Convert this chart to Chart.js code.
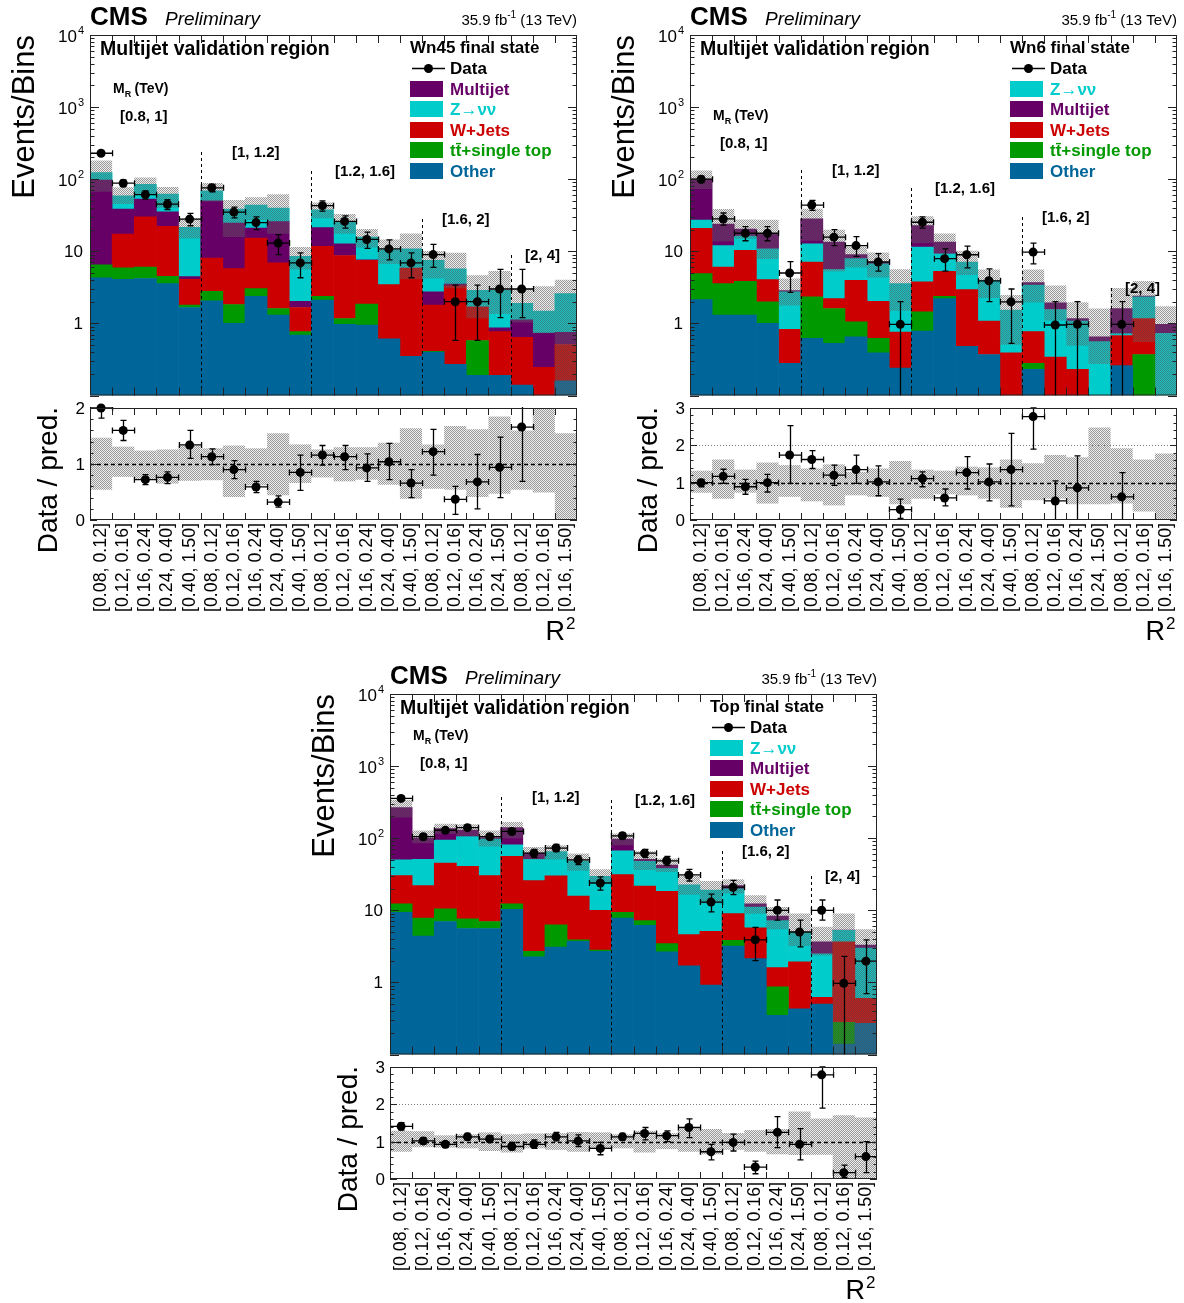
<!DOCTYPE html>
<html>
<head>
<meta charset="utf-8">
<script src="https://cdn.jsdelivr.net/npm/chart.js"></script>
<style>
  body { margin: 0; background: #fff; overflow: hidden; }
  #page { position: relative; width: 1184px; height: 1303px; overflow: hidden; }
  canvas { position: absolute; }
</style>
</head>
<body>
<div id="page"></div>
<script>
// R^2 bins, grouped by M_R range
const binLabels = [
  '[0.08, 0.12]', '[0.12, 0.16]', '[0.16, 0.24]', '[0.24, 0.40]', '[0.40, 1.50]',
  '[0.08, 0.12]', '[0.12, 0.16]', '[0.16, 0.24]', '[0.24, 0.40]', '[0.40, 1.50]',
  '[0.08, 0.12]', '[0.12, 0.16]', '[0.16, 0.24]', '[0.24, 0.40]', '[0.40, 1.50]',
  '[0.08, 0.12]', '[0.12, 0.16]', '[0.16, 0.24]', '[0.24, 1.50]',
  '[0.08, 0.12]', '[0.12, 0.16]', '[0.16, 1.50]'
];
const mrLabels = ['[0.8, 1]', '[1, 1.2]', '[1.2, 1.6]', '[1.6, 2]', '[2, 4]'];
const mrFirstBin = [0, 5, 10, 15, 19];

// ---- Wn45 final state ----
const wn45Other = [4.3, 4.1, 4.2, 3.56, 1.66, 2.06, 1.0, 2.38, 1.3, 0.69, 2.1, 0.97, 0.95, 0.61, 0.35, 0.4, 0.27, 0.19, 0.19, 0.14, null, 0.16];
const wn45TT = [2.2, 1.8, 1.85, 0.94, 0.13, 0.73, 0.83, 0.66, 0.31, 0.08, 0.28, 0.2, 0.9, null, null, 0.01, null, 0.39, null, null, null, null];
const wn45WJets = [null, 11.4, 23.9, 17.7, 2.29, 5.26, 3.91, 12.2, 5.29, 0.89, 9.32, 7.58, 5.65, 2.84, 5.52, 1.38, 3.04, 1.12, 0.58, 0.5, 0.245, 0.35];
const wn45Multijet = [90.5, 21.3, 23.1, 13.2, 0.37, 42, 18.8, 5.7, 18.9, 0.37, 9.6, 3.95, 0.1, null, null, 0.95, 0.19, null, 0.1, 0.48, 0.49, 0.24];
const wn45Znn = [27, 20.3, 32, 26.6, 17.1, 19, 14.1, 22.9, 14, 6.47, 16.4, 12.6, 8.1, 7.15, 4.93, 4.76, 2.2, 1.18, 2.01, 0.78, 0.75, 1.85];
const wn45Data = [229, 88, 61, 45, 28, 76, 35, 25, 13, 6.9, 43, 26, 14.6, 10.8, 6.9, 9, 2, 2, 3, 3, null, null];
const wn45DataLo = [214, 79, 53, 38, 22.6, 67, 29, 20, 9, 4.3, 36, 21, 11, 7.6, 4.3, 6, 0.58, 0.58, 1.2, 1.2, null, null];
const wn45DataHi = [244, 98, 69, 52, 33.5, 85, 41, 30, 17, 9.5, 50, 31, 18.5, 14.4, 9.5, 12.5, 3.4, 3.4, 5.6, 5.6, null, null];
const wn45Ratio = [2.0, 1.60, 0.72, 0.76, 1.34, 1.13, 0.90, 0.59, 0.32, 0.85, 1.16, 1.13, 0.93, 1.04, 0.66, 1.22, 0.37, 0.68, 0.94, 1.66, null, null];
const wn45RatioLo = [1.82, 1.42, 0.63, 0.65, 1.10, 0.99, 0.74, 0.49, 0.23, 0.53, 0.98, 0.90, 0.69, 0.72, 0.40, 0.80, 0.10, 0.20, 0.40, 0.69, null, null];
const wn45RatioHi = [2.2, 1.78, 0.81, 0.86, 1.60, 1.27, 1.06, 0.69, 0.43, 1.16, 1.33, 1.33, 1.18, 1.37, 0.90, 1.62, 0.60, 1.17, 1.48, 2.2, null, null];
const wn45BandLo = [0.54, 0.77, 0.72, 0.65, 0.70, 0.71, 0.41, 0.62, 0.44, 0.66, 0.76, 0.69, 0.72, 0.63, 0.38, 0.56, 0.54, 0.41, 0.47, 0.54, 0.49, 0];
const wn45BandHi = [1.47, 1.31, 1.24, 1.26, 1.33, 1.28, 1.33, 1.28, 1.55, 1.35, 1.26, 1.30, 1.30, 1.38, 1.64, 1.35, 1.68, 1.62, 1.85, 1.60, 2.2, 1.55];

// ---- Wn6 final state ----
const wn6Other = [2.14, 1.3, 1.3, 1.0, 0.28, 0.62, 0.53, 0.65, 0.39, 0.24, 0.78, 2.21, 0.48, 0.37, null, 0.23, null, null, null, 0.26, null, null];
const wn6TT = [2.76, 2.26, 2.53, 0.99, null, 1.71, 1.08, 0.4, 0.23, null, 0.67, 0.17, null, null, null, 0.05, null, null, null, null, 0.37, null];
const wn6WJets = [16.0, 2.49, 6.47, 2.05, 0.55, 4.77, 0.6, 2.91, 1.41, 0.52, 2.31, 2.89, 2.46, 0.71, 0.39, 0.49, 0.34, 0.23, null, 0.42, 0.8, null];
const wn6Znn = [6.3, 5.95, 5.9, 6.76, 1.91, 5.6, 3.39, 3.94, 4.67, 2.8, 7.64, 3.93, 4.16, 2.88, 1.14, 2.63, 1.22, 0.85, 0.56, 0.04, 1.16, 0.73];
const wn6Multijet = [72.8, 11.9, 4.2, 7.0, 0.11, 15.4, 7.8, 1.1, 0.3, null, 11.3, 4.2, null, null, null, 0.28, 0.37, 0.09, 0.09, 0.89, 0.07, 0.24];
const wn6Data = [100, 28.1, 17.8, 17.8, 5.0, 43.8, 15.7, 12.0, 7.1, 0.97, 25.3, 7.9, 8.95, 3.9, 1.99, 9.75, 0.95, 0.97, null, 0.97, null, null];
const wn6DataLo = [90, 23, 14, 14, 2.7, 37, 12, 8.5, 5.3, 0.05, 21, 5.3, 5.9, 2.0, 0.53, 6.7, 0.05, 0.05, null, 0.05, null, null];
const wn6DataHi = [110, 34, 22, 22, 7.2, 51, 20, 16, 9.3, 2.0, 30, 10.8, 11.8, 5.7, 3.0, 13, 2.0, 2.0, null, 2.0, null, null];
const wn6Ratio = [1.0, 1.17, 0.89, 1.0, 1.74, 1.62, 1.20, 1.35, 1.02, 0.28, 1.11, 0.59, 1.27, 1.02, 1.35, 2.77, 0.51, 0.86, null, 0.62, null, null];
const wn6RatioLo = [0.89, 0.98, 0.69, 0.75, 0.98, 1.38, 0.93, 0.98, 0.65, 0.04, 0.89, 0.38, 0.83, 0.51, 0.38, 1.90, 0, 0, null, 0, null, null];
const wn6RatioHi = [1.09, 1.36, 1.09, 1.22, 2.53, 1.86, 1.47, 1.74, 1.45, 0.56, 1.29, 0.83, 1.70, 1.50, 2.32, 3.0, 1.05, 1.72, null, 1.27, null, null];
const wn6BandLo = [0.73, 0.57, 0.73, 0.44, 0.62, 0.50, 0.39, 0.66, 0.62, 0.42, 0.57, 0.69, 0.66, 0.57, 0.33, 0.53, 0.57, 0.42, 0.42, 0.44, 0.23, 0];
const wn6BandHi = [1.32, 1.62, 1.35, 1.54, 1.47, 1.38, 1.49, 1.29, 1.38, 1.58, 1.35, 1.32, 1.43, 1.41, 1.62, 1.52, 1.74, 1.68, 2.48, 1.92, 1.62, 1.78];

// ---- Top final state ----
const topOther = [9.4, 4.4, 7.0, 5.6, 5.6, 10.3, 2.26, 3.1, 3.7, 2.7, 7.8, 6.2, 2.65, 1.7, 0.92, 3.2, 2.14, 0.35, 0.43, 0.5, 0.14, 0.27];
const topTT = [2.9, 3.4, 3.5, 2.0, 1.4, 2.0, 0.44, 3.2, 0.2, 0.1, 1.6, 1.0, 0.8, null, null, 0.64, null, 0.52, null, null, 0.14, null];
const topWJets = [17.9, 14.2, 34.5, 33.1, 23.2, 43.7, 23.1, 23.7, 11.8, 7.2, 21.8, 14.4, 14.95, 2.9, 4.18, 5.16, 3.56, 0.73, 1.5, 0.12, 3.36, 0.33];
const topZnn = [19.8, 29, 49, 64.3, 66.8, 25, 25.2, 35, 32.9, 19.6, 35.8, 26, 19.6, 17.9, 13.9, 10.8, 5.4, 5.6, 3.07, 1.88, 1.63, 2.4];
const topMultijet = [215, 49, 42, 25, 5, 59, 11, null, null, null, 30, 3.4, 4.5, null, null, 2.2, 1.2, 1.1, null, 1.14, 0.03, 0.3];
const topData = [356, 105, 129, 140, 105, 124, 62, 73, 50, 23.9, 108, 62, 48.6, 30.9, 13, 20.9, 3.9, 10, 5.0, 10, 0.97, 1.97];
const topDataLo = [337, 95, 118, 128, 95, 113, 54, 65, 43, 19, 98, 54, 42, 25.5, 9.5, 16.5, 2.0, 7.3, 3.1, 7.3, 0.05, 0.7];
const topDataHi = [375, 115, 140, 152, 115, 135, 70, 82, 57, 29, 118, 70, 56, 37, 16.8, 26, 5.8, 13.9, 7.3, 13.9, 2.3, 3.9];
const topRatio = [1.41, 1.02, 0.93, 1.13, 1.07, 0.87, 0.93, 1.13, 1.02, 0.82, 1.13, 1.22, 1.16, 1.38, 0.73, 0.98, 0.32, 1.25, 0.93, 2.79, 0.17, 0.60];
const topRatioLo = [1.31, 0.93, 0.84, 1.04, 0.98, 0.78, 0.82, 1.02, 0.87, 0.65, 1.04, 1.05, 1.0, 1.11, 0.51, 0.75, 0.14, 0.84, 0.51, 1.9, 0.04, 0.17];
const topRatioHi = [1.51, 1.11, 1.0, 1.22, 1.16, 0.98, 1.05, 1.25, 1.18, 0.98, 1.22, 1.38, 1.29, 1.61, 0.93, 1.2, 0.48, 1.67, 1.35, 3.0, 0.37, 1.0];
const topBandLo = [0.73, 0.85, 0.84, 0.82, 0.75, 0.71, 0.82, 0.78, 0.73, 0.82, 0.82, 0.71, 0.8, 0.73, 0.66, 0.78, 0.73, 0.66, 0.64, 0.65, 0, 0];
const topBandHi = [1.29, 1.28, 1.17, 1.2, 1.25, 1.2, 1.22, 1.23, 1.26, 1.25, 1.2, 1.29, 1.23, 1.35, 1.34, 1.23, 1.31, 1.34, 1.81, 1.62, 1.71, 1.65];

const PROC = {
  Other: { label: 'Other', color: '#006699' },
  TT: { label: 't\u0074\u0304+single top', color: '#009900' },
  WJets: { label: 'W+Jets', color: '#cc0000' },
  Multijet: { label: 'Multijet', color: '#660066' },
  Znn: { label: 'Z\u2192\u03bd\u03bd', color: '#00cccc' }
};

const FAM = '"Liberation Sans", Arial, Helvetica, sans-serif';
const font = (size, w) => (w || '') + ' ' + size + 'px ' + FAM;

// semi transparent grey dither, like ROOT's hatched error band
function makeHatch() {
  const c = document.createElement('canvas');
  c.width = 2; c.height = 2;
  const g = c.getContext('2d');
  g.fillStyle = 'rgba(90,90,90,0.62)';
  g.fillRect(0, 0, 1, 1); g.fillRect(1, 1, 1, 1);
  g.fillStyle = 'rgba(140,140,140,0.16)';
  g.fillRect(1, 0, 1, 1); g.fillRect(0, 1, 1, 1);
  return g.createPattern(c, 'repeat');
}
const hatch = makeHatch();

const panels = [
  {
    ox: 0, oy: 0, title: 'Wn45 final state',
    stack: ['Other', 'TT', 'WJets', 'Multijet', 'Znn'],
    legend: ['Multijet', 'Znn', 'WJets', 'TT', 'Other'],
    comp: { Other: wn45Other, TT: wn45TT, WJets: wn45WJets, Multijet: wn45Multijet, Znn: wn45Znn },
    data: wn45Data, dataLo: wn45DataLo, dataHi: wn45DataHi,
    ratio: wn45Ratio, ratioLo: wn45RatioLo, ratioHi: wn45RatioHi,
    bandLo: wn45BandLo, bandHi: wn45BandHi, ratioMax: 2,
    mrY: [116, 152, 171, 219, 255]
  },
  {
    ox: 600, oy: 0, title: 'Wn6 final state',
    stack: ['Other', 'TT', 'WJets', 'Znn', 'Multijet'],
    legend: ['Znn', 'Multijet', 'WJets', 'TT', 'Other'],
    comp: { Other: wn6Other, TT: wn6TT, WJets: wn6WJets, Multijet: wn6Multijet, Znn: wn6Znn },
    data: wn6Data, dataLo: wn6DataLo, dataHi: wn6DataHi,
    ratio: wn6Ratio, ratioLo: wn6RatioLo, ratioHi: wn6RatioHi,
    bandLo: wn6BandLo, bandHi: wn6BandHi, ratioMax: 3,
    mrY: [143, 170, 188, 217, 288]
  },
  {
    ox: 300, oy: 659, title: 'Top final state',
    stack: ['Other', 'TT', 'WJets', 'Znn', 'Multijet'],
    legend: ['Znn', 'Multijet', 'WJets', 'TT', 'Other'],
    comp: { Other: topOther, TT: topTT, WJets: topWJets, Multijet: topMultijet, Znn: topZnn },
    data: topData, dataLo: topDataLo, dataHi: topDataHi,
    ratio: topRatio, ratioLo: topRatioLo, ratioHi: topRatioHi,
    bandLo: topBandLo, bandHi: topBandHi, ratioMax: 3,
    mrY: [104, 138, 141, 192, 217]
  }
];
const mrX = [120, 232, 335, 442, 525];

function binWidth(x) { return x.getPixelForValue(1) - x.getPixelForValue(0); }
function edgeAt(x, i) { return x.getPixelForValue(0) - binWidth(x) / 2 + i * binWidth(x); }

function line(ctx, x1, y1, x2, y2) { ctx.moveTo(x1, y1); ctx.lineTo(x2, y2); }

function makeErrBars(val, lo, hi) {
  return {
    id: 'errBars',
    afterDatasetsDraw(chart) {
      const { ctx, chartArea: a, scales: { x, y } } = chart;
      const w = binWidth(x);
      ctx.save();
      ctx.beginPath(); ctx.rect(a.left, a.top - 1, a.width, a.height + 1); ctx.clip();
      ctx.strokeStyle = '#000'; ctx.lineWidth = 1.3;
      ctx.beginPath();
      val.forEach((v, i) => {
        if (v == null) return;
        const px = Math.round(x.getPixelForValue(i)) + 0.5;
        const py = y.getPixelForValue(v);
        const yl = y.getPixelForValue(lo[i]);
        const yh = y.getPixelForValue(hi[i]);
        line(ctx, px, yl, px, yh);
        line(ctx, px - 3, yl, px + 3, yl);
        line(ctx, px - 3, yh, px + 3, yh);
        line(ctx, px - w / 2, py, px + w / 2, py);
        line(ctx, px - w / 2, py - 3, px - w / 2, py + 3);
        line(ctx, px + w / 2, py - 3, px + w / 2, py + 3);
      });
      ctx.stroke();
      ctx.restore();
    }
  };
}

function frameAndEdgeTicks(ctx, a, x, n, len) {
  ctx.strokeStyle = '#222'; ctx.lineWidth = 1;
  ctx.strokeRect(a.left + 0.5, a.top + 0.5, a.width - 1, a.height - 1);
  ctx.beginPath();
  for (let i = 1; i < n; i++) {
    const ex = Math.round(edgeAt(x, i)) + 0.5;
    line(ctx, ex, a.top, ex, a.top + len);
    line(ctx, ex, a.bottom, ex, a.bottom - len);
  }
  ctx.stroke();
}

function makeMainDecor(p) {
  return {
    id: 'mainDecor',
    afterDraw(chart) {
      const { ctx, chartArea: a, scales: { x, y } } = chart;
      ctx.save();
      // dashed separators between M_R groups
      ctx.strokeStyle = '#000'; ctx.lineWidth = 1; ctx.setLineDash([3, 3]);
      ctx.beginPath();
      mrFirstBin.forEach((b, k) => {
        if (!k) return;
        const ex = Math.round(edgeAt(x, b)) + 0.5;
        line(ctx, ex, p.mrY[k], ex, a.bottom);
      });
      ctx.stroke();
      ctx.setLineDash([]);

      frameAndEdgeTicks(ctx, a, x, binLabels.length, 8);
      // log ticks left and right
      ctx.beginPath();
      for (let d = -1; d <= 4; d++) {
        for (let k = 1; k <= 9; k++) {
          const v = k * Math.pow(10, d);
          if (v < 0.1 || v > 10001) continue;
          const py = Math.round(y.getPixelForValue(v)) + 0.5;
          const len = k === 1 ? 9 : 4.5;
          line(ctx, a.left, py, a.left + len, py);
          line(ctx, a.right, py, a.right - len, py);
        }
      }
      ctx.stroke();

      // y tick labels
      ctx.fillStyle = '#000'; ctx.textBaseline = 'alphabetic';
      for (let d = 0; d <= 4; d++) {
        const py = y.getPixelForValue(Math.pow(10, d));
        if (d < 2) {
          ctx.font = font(17); ctx.textAlign = 'right';
          ctx.fillText(d === 0 ? '1' : '10', 83, py + 6);
        } else {
          ctx.font = font(17); ctx.textAlign = 'right';
          ctx.fillText('10', 77, py + 7);
          ctx.font = font(11); ctx.textAlign = 'left';
          ctx.fillText(String(d), 78, py - 1);
        }
      }

      // M_R labels
      ctx.textAlign = 'left';
      ctx.font = font(14, 'bold');
      const my = p.mrY[0] - 28;
      ctx.fillText('M', 113, my + 5);
      const mw = ctx.measureText('M').width;
      ctx.font = font(9, 'bold');
      ctx.fillText('R', 113 + mw, my + 9);
      ctx.font = font(14, 'bold');
      ctx.fillText(' (TeV)', 113 + mw + 6, my + 5);
      ctx.font = font(15, 'bold');
      mrLabels.forEach((s, k) => ctx.fillText(s, mrX[k], p.mrY[k] + 5));

      // header
      ctx.font = font(26, 'bold');
      ctx.fillText('CMS', 90, 25);
      ctx.font = font(19, 'italic');
      ctx.fillText('Preliminary', 165, 25);
      ctx.font = font(15);
      const w1 = ctx.measureText('35.9 fb').width;
      const w3 = ctx.measureText(' (13 TeV)').width;
      ctx.font = font(10);
      const w2 = ctx.measureText('-1').width;
      let lx = a.right - w1 - w2 - w3;
      ctx.font = font(15);
      ctx.fillText('35.9 fb', lx, 25);
      ctx.font = font(10);
      ctx.fillText('-1', lx + w1, 18);
      ctx.font = font(15);
      ctx.fillText(' (13 TeV)', lx + w1 + w2, 25);

      // y title
      ctx.save();
      ctx.translate(34, a.top);
      ctx.rotate(-Math.PI / 2);
      ctx.textAlign = 'right';
      ctx.font = font(31);
      ctx.fillText('Events/Bins', 0, 0);
      ctx.restore();

      // region + legend
      ctx.font = font(19.5, 'bold');
      ctx.fillText('Multijet validation region', 100, 55);
      ctx.font = font(17, 'bold');
      ctx.fillText(p.title, 410, 53);
      const rowY = [68, 89, 109, 130, 150, 171];
      ctx.strokeStyle = '#000'; ctx.lineWidth = 1.3;
      ctx.beginPath(); line(ctx, 412, rowY[0] + 0.5, 445, rowY[0] + 0.5); ctx.stroke();
      ctx.beginPath(); ctx.arc(428.5, rowY[0] + 0.5, 4.5, 0, 2 * Math.PI); ctx.fill();
      ctx.fillText('Data', 450, rowY[0] + 6);
      p.legend.forEach((k, j) => {
        const ry = rowY[j + 1];
        ctx.fillStyle = PROC[k].color;
        ctx.fillRect(410, ry - 8, 33, 16);
        ctx.fillText(PROC[k].label, 450, ry + 6);
      });
      ctx.restore();
    }
  };
}

function makeRatioDecor(p) {
  return {
    id: 'ratioDecor',
    afterDatasetDraw(chart, args) {
      if (args.index !== 1) return;
      const { ctx, chartArea: a, scales: { y } } = chart;
      ctx.save();
      if (p.ratioMax > 2) {
        ctx.strokeStyle = '#777'; ctx.lineWidth = 1; ctx.setLineDash([1, 2]);
        const y2 = Math.round(y.getPixelForValue(2)) + 0.5;
        ctx.beginPath(); line(ctx, a.left, y2, a.right, y2); ctx.stroke();
      }
      ctx.strokeStyle = '#000'; ctx.lineWidth = 1.6; ctx.setLineDash([4, 3]);
      const y1 = Math.round(y.getPixelForValue(1)) + 0.5;
      ctx.beginPath(); line(ctx, a.left, y1, a.right, y1); ctx.stroke();
      ctx.restore();
    },
    afterDraw(chart) {
      const { ctx, chartArea: a, scales: { x, y } } = chart;
      ctx.save();
      frameAndEdgeTicks(ctx, a, x, binLabels.length, 7);
      ctx.beginPath();
      for (let j = 0; j <= p.ratioMax * 5; j++) {
        const py = Math.round(y.getPixelForValue(j / 5)) + 0.5;
        const len = j % 5 === 0 ? 7 : 3.5;
        line(ctx, a.left, py, a.left + len, py);
        line(ctx, a.right, py, a.right - len, py);
      }
      ctx.stroke();

      ctx.fillStyle = '#000';
      ctx.font = font(17); ctx.textAlign = 'right'; ctx.textBaseline = 'alphabetic';
      for (let j = 0; j <= p.ratioMax; j++) {
        ctx.fillText(String(j), 85, y.getPixelForValue(j) + 6);
      }

      // rotated bin labels
      ctx.font = font(17.8);
      binLabels.forEach((s, i) => {
        ctx.save();
        ctx.translate(x.getPixelForValue(i), a.bottom + 3);
        ctx.rotate(-Math.PI / 2);
        ctx.textAlign = 'right'; ctx.textBaseline = 'middle';
        ctx.fillText(s, 0, 0);
        ctx.restore();
      });

      ctx.save();
      ctx.translate(57, a.top - 1);
      ctx.rotate(-Math.PI / 2);
      ctx.textAlign = 'right';
      ctx.font = font(28);
      ctx.fillText('Data / pred.', 0, 0);
      ctx.restore();

      ctx.textAlign = 'right';
      ctx.font = font(27);
      ctx.fillText('R', 565, 240);
      ctx.textAlign = 'left';
      ctx.font = font(17);
      ctx.fillText('2', 566, 229);
      ctx.restore();
    }
  };
}

function mainConfig(p) {
  const total = binLabels.map((_, i) => p.stack.reduce((s, k) => s + (p.comp[k][i] || 0), 0));
  const band = total.map((t, i) => [Math.max(t * p.bandLo[i], 0.1), t * p.bandHi[i]]);
  const datasets = [
    {
      type: 'line', label: 'Data', data: p.data, stack: 'data', showLine: false,
      pointRadius: 4.5, pointHoverRadius: 4.5, pointBackgroundColor: '#000',
      pointBorderColor: '#000', pointBorderWidth: 0
    },
    {
      type: 'bar', label: 'Uncertainty', data: band, stack: 'band', grouped: false,
      backgroundColor: hatch, borderWidth: 0, inflateAmount: 0
    }
  ];
  p.stack.forEach(k => datasets.push({
    type: 'bar', label: PROC[k].label, data: p.comp[k], stack: 'mc',
    backgroundColor: PROC[k].color, borderWidth: 0
  }));
  return {
    type: 'bar',
    data: { labels: binLabels, datasets },
    options: {
      responsive: false, animation: false,
      layout: { padding: { left: 90, right: 13, top: 35, bottom: 3 } },
      datasets: { bar: { barPercentage: 1, categoryPercentage: 1 } },
      scales: {
        x: { type: 'category', offset: true, stacked: true, display: false },
        y: { type: 'logarithmic', min: 0.1, max: 10000, stacked: true, display: false }
      },
      plugins: { legend: { display: false }, tooltip: { enabled: false } }
    },
    plugins: [makeErrBars(p.data, p.dataLo, p.dataHi), makeMainDecor(p)]
  };
}

function ratioConfig(p) {
  return {
    type: 'bar',
    data: {
      labels: binLabels,
      datasets: [
        {
          type: 'line', label: 'Data / pred.', data: p.ratio, showLine: false, clip: false,
          pointRadius: 4.5, pointHoverRadius: 4.5, pointBackgroundColor: '#000',
          pointBorderColor: '#000', pointBorderWidth: 0
        },
        {
          type: 'bar', label: 'Uncertainty', data: binLabels.map((_, i) => [p.bandLo[i], p.bandHi[i]]),
          backgroundColor: hatch, borderWidth: 0, inflateAmount: 0
        }
      ]
    },
    options: {
      responsive: false, animation: false,
      layout: { padding: { left: 90, right: 13, top: 8, bottom: 124 } },
      datasets: { bar: { barPercentage: 1, categoryPercentage: 1 } },
      scales: {
        x: { type: 'category', offset: true, display: false },
        y: { type: 'linear', min: 0, max: p.ratioMax, display: false }
      },
      plugins: { legend: { display: false }, tooltip: { enabled: false } }
    },
    plugins: [makeErrBars(p.ratio, p.ratioLo, p.ratioHi), makeRatioDecor(p)]
  };
}

function addCanvas(left, top, w, h) {
  const c = document.createElement('canvas');
  c.width = w; c.height = h;
  c.style.left = left + 'px'; c.style.top = top + 'px';
  c.style.width = w + 'px'; c.style.height = h + 'px';
  document.getElementById('page').appendChild(c);
  return c;
}

panels.forEach(p => {
  new Chart(addCanvas(p.ox, p.oy, 590, 400), mainConfig(p));
  new Chart(addCanvas(p.ox, p.oy + 400, 590, 244), ratioConfig(p));
});
</script>
</body>
</html>
